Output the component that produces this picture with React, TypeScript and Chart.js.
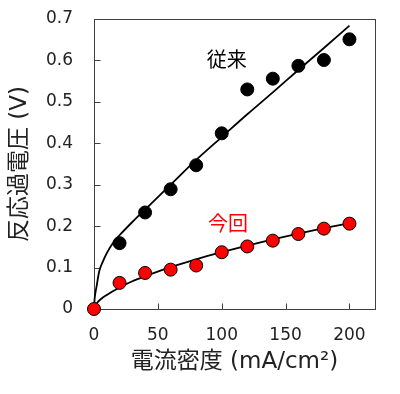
import React, { useEffect, useRef } from "react";
import { Chart, registerables } from "chart.js";

Chart.register(...registerables);

// Measured data
const currentDensity = [0, 20, 40, 60, 80, 100, 120, 140, 160, 180, 200];
const conventional = [null, 0.159, 0.233, 0.289, 0.347, 0.424, 0.53, 0.556, 0.587, 0.601, 0.651];
const present = [0, 0.063, 0.087, 0.095, 0.105, 0.137, 0.151, 0.165, 0.181, 0.194, 0.206];

// Fit curves
const convFitX = [0, 0.5, 1, 2, 4, 7, 10, 15, 20, 30, 40, 60, 80, 100, 120, 140, 160, 180, 200];
const convFitY = [0, 0.025, 0.037, 0.054, 0.09, 0.115, 0.135, 0.16, 0.178, 0.21, 0.24, 0.3, 0.36, 0.415, 0.47, 0.523, 0.577, 0.63, 0.684];
const presFitX = [0, 2, 5, 10, 20, 30, 40, 60, 80, 100, 120, 140, 160, 180, 200];
const presFitY = [0, 0.013, 0.023, 0.034, 0.052, 0.067, 0.079, 0.101, 0.12, 0.137, 0.153, 0.168, 0.182, 0.195, 0.207];

const xTickValues = [0, 50, 100, 150, 200];
const yTickValues = [0, 0.1, 0.2, 0.3, 0.4, 0.5, 0.6, 0.7];

const xTitle = "電流密度 (mA/cm²)";
const yTitle = "反応過電圧 (V)";
const labels = [
  { text: "従来", x: 104, y: 0.603, color: "#000000" },
  { text: "今回", x: 105, y: 0.206, color: "#ff0000" },
];

const FONT = "'DejaVu Sans', 'Noto Sans CJK JP', sans-serif";

const toXY = (xs: number[], ys: (number | null)[]) =>
  xs.map((x, i) => ({ x, y: ys[i] })).filter((p) => p.y !== null) as { x: number; y: number }[];

const framePlugin = {
  id: "frame",
  beforeDatasetsDraw(chart: any) {
    const { ctx, chartArea, scales } = chart;
    const { left, right, top, bottom } = chartArea;
    ctx.save();
    ctx.strokeStyle = "#404040";
    ctx.lineWidth = 1;
    ctx.strokeRect(left + 0.5, top + 0.5, right - left, bottom - top);
    ctx.beginPath();
    for (const v of xTickValues) {
      if (v === 0) continue;
      const px = Math.round(scales.x.getPixelForValue(v)) + 0.5;
      ctx.moveTo(px, bottom + 0.5);
      ctx.lineTo(px, bottom - 5.5);
    }
    for (const v of yTickValues) {
      if (v === 0 || v === 0.7) continue;
      const py = Math.round(scales.y.getPixelForValue(v)) + 0.5;
      ctx.moveTo(left + 0.5, py);
      ctx.lineTo(left + 6.5, py);
    }
    ctx.stroke();
    ctx.restore();
  },
};

const labelPlugin = {
  id: "textLabels",
  afterDatasetsDraw(chart: any) {
    const { ctx, scales } = chart;
    ctx.save();
    ctx.font = `20px 'Noto Sans CJK JP', sans-serif`;
    ctx.textAlign = "center";
    ctx.textBaseline = "middle";
    for (const l of labels) {
      ctx.fillStyle = l.color;
      ctx.fillText(l.text, scales.x.getPixelForValue(l.x), scales.y.getPixelForValue(l.y));
    }
    ctx.restore();
  },
};

export default function App() {
  const ref = useRef<HTMLCanvasElement>(null);
  useEffect(() => {
    if (!ref.current) return;
    const chart = new Chart(ref.current, {
      type: "scatter",
      data: {
        datasets: [
          {
            label: "今回",
            data: toXY(currentDensity, present),
            pointRadius: 6.5,
            pointBackgroundColor: "#ff0000",
            pointBorderColor: "#000000",
            pointBorderWidth: 1,
            showLine: false,
            clip: false,
          },
          {
            label: "従来",
            data: toXY(currentDensity, conventional),
            pointRadius: 6.5,
            pointBackgroundColor: "#000000",
            pointBorderColor: "#000000",
            pointBorderWidth: 1,
            showLine: false,
            clip: false,
          },
          {
            label: "fit present",
            data: toXY(presFitX, presFitY),
            showLine: true,
            pointRadius: 0,
            borderColor: "#000000",
            borderWidth: 1.8,
            cubicInterpolationMode: "monotone",
            clip: false,
          },
          {
            label: "fit conventional",
            data: toXY(convFitX, convFitY),
            showLine: true,
            pointRadius: 0,
            borderColor: "#000000",
            borderWidth: 1.8,
            cubicInterpolationMode: "monotone",
            clip: false,
          },
        ],
      } as any,
      options: {
        animation: false,
        responsive: false,
        maintainAspectRatio: false,
        layout: { padding: { top: 19, right: 25, bottom: 0, left: 0 } },
        plugins: { legend: { display: false }, tooltip: { enabled: false } },
        scales: {
          x: {
            type: "linear",
            min: 0,
            max: 220,
            afterBuildTicks: (s: any) => {
              s.ticks = xTickValues.map((v) => ({ value: v }));
            },
            afterFit: (s: any) => {
              s.height = 85;
              s.paddingLeft = 0;
              s.paddingRight = 0;
            },
            grid: { display: false, drawTicks: false },
            border: { display: false },
            ticks: {
              padding: 16,
              color: "#222222",
              font: { family: FONT, size: 17 },
              maxRotation: 0,
              callback: (v: any) => String(v),
            },
            title: {
              display: true,
              text: xTitle,
              color: "#222222",
              font: { family: FONT, size: 23 },
              padding: { top: 0, bottom: 18 },
            },
          },
          y: {
            type: "linear",
            min: 0,
            max: 0.7,
            afterBuildTicks: (s: any) => {
              s.ticks = yTickValues.map((v) => ({ value: v }));
            },
            afterFit: (s: any) => {
              s.width = 94;
              s.paddingTop = 0;
              s.paddingBottom = 0;
            },
            grid: { display: false, drawTicks: false },
            border: { display: false },
            ticks: {
              padding: 21,
              color: "#222222",
              font: { family: FONT, size: 17 },
              callback: (v: any) => (Number(v) === 0 ? "0" : Number(v).toFixed(1)),
            },
            title: {
              display: true,
              text: yTitle,
              color: "#222222",
              font: { family: FONT, size: 23 },
              padding: { top: 6, bottom: 0 },
            },
          },
        },
      } as any,
      plugins: [framePlugin, labelPlugin],
    });
    return () => chart.destroy();
  }, []);
  return (
    <div style={{ position: "absolute", left: 0, top: 0, width: 400, height: 394, background: "#fff" }}>
      <canvas ref={ref} width={400} height={394} style={{ display: "block" }} />
    </div>
  );
}
